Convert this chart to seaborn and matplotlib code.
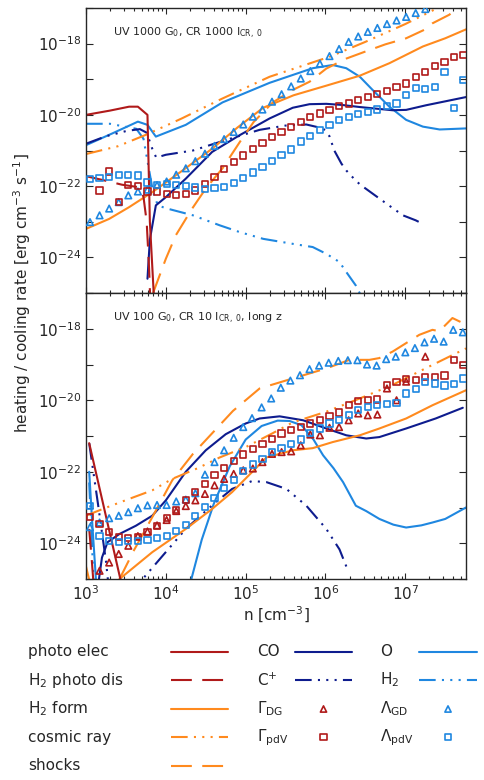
## heating / cooling rates vs density, two panels plus a hand-made key
import numpy as np
import matplotlib
matplotlib.use("Agg")
import matplotlib.pyplot as plt
import matplotlib.ticker as mticker
import seaborn as sns

## values are log10(n) and log10(rate)

# top panel: UV 1000 G0, CR 1000
top_photo_n = [3.0, 3.3, 3.54, 3.65, 3.77, 3.78, 3.80, 3.86]
top_photo_r = [-20.0, -19.88, -19.77, -19.77, -20.0, -21.0, -23.0, -25.5]
top_h2dis_n = [3.0, 3.25, 3.45, 3.66, 3.72, 3.76, 3.79, 3.81]
top_h2dis_r = [-21.72, -21.85, -21.96, -22.03, -22.3, -23.0, -24.3, -25.5]
top_h2form_n = [3.0, 3.29, 3.54, 3.83, 4.21, 4.58, 4.9, 5.22, 5.6, 6.01, 6.43, 6.8, 7.22, 7.5, 7.76]
top_h2form_r = [-23.2, -22.92, -22.59, -22.17, -21.56, -20.95, -20.35, -19.8, -19.45, -19.18, -18.9, -18.55, -18.08, -17.85, -17.6]
top_cr_n = [3.0, 3.4, 3.75, 4.2, 4.7, 5.3, 6.05, 6.5, 7.0, 7.45]
top_cr_r = [-21.1, -20.88, -20.56, -20.1, -19.55, -18.93, -18.37, -17.95, -17.45, -16.95]
top_shock_n = [3.84, 4.0, 4.125, 4.33, 4.5, 4.71, 4.93, 5.1, 5.34, 5.59, 5.8, 6.01, 6.26, 6.49, 6.75, 7.01, 7.24, 7.34, 7.55, 7.68]
top_shock_r = [-25.0, -24.04, -23.38, -22.63, -22.07, -21.5, -20.75, -20.2, -19.65, -19.3, -19.07, -18.7, -18.42, -18.23, -18.02, -17.85, -17.61, -17.43, -17.19, -16.95]
top_co_n = [3.77, 3.8, 3.875, 4.0, 4.25, 4.58, 4.925, 5.3, 5.59, 5.8, 6.01, 6.2, 6.43, 6.84, 7.01, 7.26, 7.5, 7.76]
top_co_r = [-24.6, -23.5, -22.54, -22.31, -21.79, -21.04, -20.57, -20.1, -19.8, -19.7, -19.69, -19.72, -19.78, -19.87, -19.86, -19.73, -19.62, -19.5]
top_cplus_n = [3.0, 3.25, 3.51, 3.675, 3.76, 3.83, 3.88, 4.0, 4.34, 4.76, 5.175, 5.5, 5.76, 5.97, 6.05, 6.11, 6.2, 6.26, 6.36, 6.43, 6.59, 6.8, 6.97, 7.13, 7.22]
top_cplus_r = [-20.81, -20.6, -20.45, -20.4, -20.5, -20.95, -21.2, -21.12, -21.0, -20.7, -20.42, -20.3, -20.27, -20.38, -20.6, -21.0, -21.37, -21.56, -21.8, -21.95, -22.21, -22.55, -22.82, -22.96, -23.06]
top_o_n = [3.0, 3.33, 3.65, 3.77, 3.875, 4.25, 4.71, 5.3, 5.84, 6.09, 6.26, 6.43, 6.59, 6.8, 7.01, 7.22, 7.43, 7.76]
top_o_r = [-20.85, -20.52, -20.19, -20.28, -20.61, -20.28, -19.65, -19.1, -18.69, -18.6, -18.69, -18.93, -19.3, -19.77, -20.14, -20.33, -20.41, -20.38]
top_h2_n = [3.0, 3.3, 3.51, 3.63, 3.72, 3.78, 3.84, 3.9, 4.0, 4.34, 4.675, 4.925, 5.22, 5.59, 5.84, 6.01, 6.175, 6.26, 6.38, 6.45]
top_h2_r = [-20.25, -20.25, -20.34, -20.39, -20.67, -21.42, -22.17, -22.54, -22.62, -22.82, -23.1, -23.29, -23.48, -23.62, -23.71, -23.9, -24.13, -24.41, -24.79, -25.1]

top_lgd_n = [3.05, 3.17, 3.29, 3.41, 3.53, 3.65, 3.77, 3.89, 4.01, 4.13, 4.25, 4.37, 4.49, 4.61, 4.73, 4.85, 4.97, 5.09,
             5.21, 5.33, 5.45, 5.57, 5.69, 5.81, 5.93, 6.05, 6.17, 6.29, 6.41, 6.53, 6.65, 6.77, 6.89, 7.01, 7.13, 7.25]
top_lgd_r = [-23.01, -22.82, -22.63, -22.45, -22.26, -22.15, -22.1, -21.97, -21.87, -21.68, -21.5, -21.3, -21.09, -20.87,
             -20.68, -20.48, -20.27, -20.05, -19.85, -19.63, -19.42, -19.2, -18.98, -18.77, -18.56, -18.35, -18.15, -17.95,
             -17.8, -17.67, -17.56, -17.45, -17.35, -17.25, -17.14, -17.03]
top_gpdv_n = [3.17, 3.29, 3.41, 3.53, 3.65, 3.77, 3.89, 4.01, 4.13, 4.25, 4.37, 4.49, 4.61, 4.73, 4.85, 4.97, 5.09, 5.21,
              5.33, 5.45, 5.57, 5.69, 5.81, 5.93, 6.05, 6.17, 6.29, 6.41, 6.53, 6.65, 6.77, 6.89, 7.01, 7.13, 7.25, 7.37,
              7.49, 7.61, 7.73]
top_gpdv_r = [-22.12, -21.59, -22.45, -21.96, -22.0, -22.15, -22.15, -22.23, -22.26, -22.23, -22.12, -21.95, -21.74,
              -21.53, -21.32, -21.14, -20.95, -20.8, -20.63, -20.48, -20.33, -20.2, -20.05, -19.96, -19.86, -19.75,
              -19.68, -19.58, -19.49, -19.42, -19.33, -19.21, -19.12, -18.93, -18.79, -18.63, -18.52, -18.37, -18.32]
top_lpdv_n = [3.05, 3.17, 3.29, 3.41, 3.53, 3.65, 3.77, 3.89, 4.01, 4.13, 4.25, 4.37, 4.49, 4.61, 4.73, 4.85, 4.97, 5.09,
              5.21, 5.33, 5.45, 5.57, 5.69, 5.81, 5.93, 6.05, 6.17, 6.29, 6.41, 6.53, 6.65, 6.77, 6.89, 7.01, 7.13, 7.25,
              7.37, 7.49, 7.61, 7.73]
top_lpdv_r = [-21.81, -21.77, -21.74, -21.68, -21.68, -21.7, -21.9, -21.96, -21.93, -21.96, -22.0, -22.04, -22.08, -22.06,
              -22.02, -21.92, -21.78, -21.62, -21.46, -21.3, -21.13, -20.97, -20.75, -20.59, -20.42, -20.28, -20.15,
              -20.06, -19.97, -19.91, -19.85, -19.75, -19.68, -19.44, -19.25, -19.28, -19.21, -18.79, -19.81, -19.02]

# bottom panel: UV 100 G0, CR 10, long z
bot_photo_n = [3.04, 3.42, 3.46]
bot_photo_r = [-21.2, -24.9, -25.3]
bot_h2dis_n = [3.04, 3.07, 3.1]
bot_h2dis_r = [-23.6, -24.4, -25.3]
bot_h2form_n = [3.0, 3.07, 3.2, 3.4, 3.42, 3.83, 4.25, 4.58, 4.83, 5.08, 5.26, 5.59, 5.84, 6.09, 6.43, 6.675, 7.01, 7.34, 7.76]
bot_h2form_r = [-24.65, -25.3, -27, -27, -25.0, -24.25, -23.6, -23.04, -22.57, -22.01, -21.6, -21.4, -21.34, -21.17,
                -20.98, -20.79, -20.51, -20.14, -19.72]
bot_cr_n = [3.0, 3.21, 3.54, 3.83, 4.08, 4.4, 4.675, 5.01, 5.34, 5.59, 6.01, 6.43, 6.84, 7.26, 7.76]
bot_cr_r = [-23.23, -23.04, -22.76, -22.52, -22.2, -21.9, -21.6, -21.3, -20.92, -20.62, -20.32, -19.95, -19.57, -19.1, -18.55]
bot_shock_n = [3.42, 3.6, 3.84, 4.08, 4.34, 4.59, 4.84, 5.175, 5.59, 6.01, 6.3, 6.55, 6.675, 6.84, 7.175, 7.34, 7.425, 7.59, 7.72]
bot_shock_r = [-25.0, -24.2, -23.23, -22.24, -21.5, -20.9, -20.3, -19.67, -19.39, -19.11, -18.87, -18.87, -18.82, -18.64,
               -18.17, -18.03, -18.07, -17.7, -17.84]
bot_co_n = [3.15, 3.2, 3.27, 3.42, 3.625, 3.83, 4.0, 4.25, 4.5, 4.75, 5.0, 5.175, 5.425, 5.72, 6.01, 6.26, 6.51, 6.675, 7.01, 7.38, 7.72]
bot_co_r = [-25.2, -24.4, -23.97, -23.74, -23.51, -23.23, -22.8, -22.0, -21.4, -20.95, -20.65, -20.51, -20.45, -20.56,
            -20.79, -20.98, -21.07, -21.03, -20.79, -20.51, -20.21]
bot_cplus_n = [3.04, 3.15, 3.25, 3.32, 3.71, 3.96, 4.25, 4.58, 4.83, 5.08, 5.26, 5.51, 5.76, 6.01, 6.175, 6.27]
bot_cplus_r = [-21.2, -22.9, -24.5, -26.0, -25.0, -24.35, -23.6, -22.94, -22.48, -22.26, -22.29, -22.48, -22.95, -23.6, -24.17, -24.7]
bot_o_n = [3.04, 3.08, 3.13, 3.2, 4.25, 4.32, 4.45, 4.6, 4.8, 5.0, 5.2, 5.4, 5.55, 5.7, 5.85, 5.97, 6.1, 6.22, 6.38,
           6.51, 6.675, 6.85, 7.01, 7.2, 7.34, 7.5, 7.76]
bot_o_r = [-22.0, -23.5, -25.2, -27, -27, -25.0, -23.9, -22.9, -21.85, -21.1, -20.72, -20.57, -20.58, -20.7, -21.1,
           -21.54, -21.9, -22.29, -22.95, -23.1, -23.32, -23.48, -23.56, -23.5, -23.42, -23.32, -23.0]
bot_h2_n = [3.04, 3.07, 3.1]
bot_h2_r = [-22.3, -23.8, -25.3]

bot_lgd_n = [3.05, 3.17, 3.29, 3.41, 3.53, 3.65, 3.77, 3.89, 4.01, 4.13, 4.25, 4.37, 4.49, 4.61, 4.73, 4.85, 4.97, 5.08,
             5.2, 5.32, 5.44, 5.56, 5.68, 5.8, 5.92, 6.04, 6.16, 6.28, 6.4, 6.52, 6.64, 6.76, 6.88, 7.0, 7.12, 7.24,
             7.36, 7.48, 7.6, 7.72]
bot_lgd_r = [-23.55, -23.42, -23.3, -23.23, -23.13, -23.02, -22.94, -22.93, -22.93, -22.83, -22.78, -22.6, -22.08,
             -21.73, -21.4, -21.05, -20.75, -20.5, -20.2, -19.95, -19.65, -19.45, -19.3, -19.13, -19.03, -18.95, -18.9,
             -18.88, -18.88, -19.0, -19.03, -18.85, -18.78, -18.66, -18.54, -18.38, -18.28, -18.36, -18.03, -18.1]
bot_gdg_n = [3.17, 3.29, 3.41, 3.53, 3.65, 3.77, 3.89, 4.01, 4.13, 4.25, 4.37, 4.49, 4.61, 4.73, 4.85, 4.97, 5.09, 5.21,
             5.33, 5.45, 5.57, 5.69, 5.81, 5.93, 6.05, 6.17, 6.29, 6.41, 6.53, 6.65, 6.77, 6.89, 7.01, 7.25]
bot_gdg_r = [-24.77, -24.54, -24.3, -24.07, -23.8, -23.67, -23.5, -23.35, -23.1, -22.96, -22.8, -22.62, -22.38, -22.2,
             -22.06, -21.96, -21.91, -21.73, -21.5, -21.45, -21.43, -21.26, -20.96, -20.98, -20.77, -20.75, -20.56,
             -20.37, -20.42, -20.4, -19.67, -20.0, -19.48, -18.78]
bot_gpdv_n = [3.05, 3.17, 3.29, 3.41, 3.53, 3.65, 3.77, 3.89, 4.01, 4.13, 4.25, 4.37, 4.49, 4.61, 4.73, 4.85, 4.97, 5.09,
              5.21, 5.33, 5.45, 5.57, 5.69, 5.81, 5.93, 6.05, 6.17, 6.29, 6.41, 6.53, 6.65, 6.77, 6.89, 7.01, 7.13, 7.25,
              7.37, 7.49, 7.61, 7.73]
bot_gpdv_r = [-23.27, -23.46, -23.69, -23.83, -23.85, -23.83, -23.69, -23.52, -23.29, -23.06, -22.8, -22.57, -22.34,
              -22.1, -21.9, -21.7, -21.52, -21.36, -21.22, -21.08, -20.93, -20.84, -20.75, -20.65, -20.56, -20.44,
              -20.34, -20.14, -20.02, -20.0, -19.98, -19.57, -19.48, -19.41, -19.43, -19.34, -19.34, -19.31, -18.87, -19.01]
bot_lpdv_n = [3.05, 3.17, 3.29, 3.41, 3.53, 3.65, 3.77, 3.89, 4.01, 4.13, 4.25, 4.37, 4.49, 4.61, 4.73, 4.85, 4.97, 5.09,
              5.21, 5.33, 5.45, 5.57, 5.69, 5.81, 5.93, 6.05, 6.17, 6.29, 6.41, 6.53, 6.65, 6.77, 6.89, 7.01, 7.13, 7.25,
              7.37, 7.49, 7.61, 7.73]
bot_lpdv_r = [-22.96, -23.79, -23.93, -23.96, -23.93, -23.93, -23.9, -23.86, -23.79, -23.65, -23.49, -23.24, -22.99,
              -22.73, -22.46, -22.24, -21.99, -21.8, -21.64, -21.45, -21.34, -21.22, -21.1, -20.91, -20.79, -20.65,
              -20.56, -20.42, -20.28, -20.19, -20.14, -20.1, -20.07, -19.81, -19.69, -19.48, -19.53, -19.59, -19.55, -19.39]

## colours and line styles
RED = '#b01a1a'
ORANGE = '#ff8a1e'
NAVY = '#0e1c8e'
BLUE = '#1f87e0'
SOLID = '-'
LDASH = (0, (10, 5))
DDD = (0, (8, 3, 1, 3, 1, 3, 1, 3))
LW = 1.5


def draw_line(ax, logn, logr, color, ls):
    sns.lineplot(x=10 ** np.array(logn), y=10 ** np.array(logr), ax=ax, color=color,
                 linestyle=ls, linewidth=LW, sort=False, estimator=None)


def draw_marks(ax, logn, logr, color, marker, size):
    sns.scatterplot(x=10 ** np.array(logn), y=10 ** np.array(logr), ax=ax, marker=marker, s=size,
                    facecolor='none', edgecolor=color, linewidth=1.2, zorder=5)


def style_axes(ax, note, bottom):
    ax.set_xscale('log')
    ax.set_yscale('log')
    ax.set_xlim(1e3, 10 ** 7.76)
    ax.set_ylim(1e-25, 1e-17)
    ax.yaxis.set_major_locator(mticker.FixedLocator([1e-24, 1e-22, 1e-20, 1e-18]))
    ax.yaxis.set_minor_locator(mticker.FixedLocator([1e-25, 1e-23, 1e-21, 1e-19, 1e-17]))
    ax.yaxis.set_major_formatter(mticker.LogFormatterSciNotation())
    ax.yaxis.set_minor_formatter(mticker.NullFormatter())
    ax.xaxis.set_major_locator(mticker.LogLocator(base=10, numticks=10))
    ax.xaxis.set_minor_locator(mticker.LogLocator(base=10, subs=np.arange(2, 10), numticks=20))
    ax.xaxis.set_minor_formatter(mticker.NullFormatter())
    ax.tick_params(which='both', direction='in', top=True, right=True, labelsize=11, width=0.8)
    ax.tick_params(axis='y', which='both', length=5)
    ax.tick_params(axis='x', which='major', length=4.5)
    ax.tick_params(axis='x', which='minor', length=2.5)
    if bottom:
        ax.set_xlabel(r'n [cm$^{-3}$]', fontsize=11, labelpad=2)
    else:
        ax.tick_params(axis='x', labelbottom=False)
        ax.set_xlabel('')
    ax.set_ylabel('')
    for sp in ax.spines.values():
        sp.set_linewidth(1.0)
    ax.text(0.071, 0.91, note, transform=ax.transAxes, fontsize=8, va='center', ha='left')


def main():
    sns.set_style("ticks")
    plt.rcParams['font.family'] = ['DejaVu Sans']

    fig = plt.figure(figsize=(4.85, 7.8), dpi=100)
    ax_top = fig.add_axes([86 / 485, 1 - 293 / 780, 380 / 485, 285 / 780])
    ax_bot = fig.add_axes([86 / 485, 1 - 579 / 780, 380 / 485, 286 / 780])

    # top panel
    draw_line(ax_top, top_h2_n, top_h2_r, BLUE, DDD)
    draw_line(ax_top, top_o_n, top_o_r, BLUE, SOLID)
    draw_line(ax_top, top_cplus_n, top_cplus_r, NAVY, DDD)
    draw_line(ax_top, top_co_n, top_co_r, NAVY, SOLID)
    draw_line(ax_top, top_shock_n, top_shock_r, ORANGE, LDASH)
    draw_line(ax_top, top_cr_n, top_cr_r, ORANGE, DDD)
    draw_line(ax_top, top_h2form_n, top_h2form_r, ORANGE, SOLID)
    draw_line(ax_top, top_h2dis_n, top_h2dis_r, RED, LDASH)
    draw_line(ax_top, top_photo_n, top_photo_r, RED, SOLID)
    draw_marks(ax_top, top_lgd_n, top_lgd_r, BLUE, '^', 22)
    draw_marks(ax_top, top_gpdv_n, top_gpdv_r, RED, 's', 20)
    draw_marks(ax_top, top_lpdv_n, top_lpdv_r, BLUE, 's', 20)
    style_axes(ax_top, r'UV 1000 G$_0$, CR 1000 I$_{\rm CR,\ 0}$', False)

    # bottom panel
    draw_line(ax_bot, bot_h2_n, bot_h2_r, BLUE, DDD)
    draw_line(ax_bot, bot_o_n, bot_o_r, BLUE, SOLID)
    draw_line(ax_bot, bot_cplus_n, bot_cplus_r, NAVY, DDD)
    draw_line(ax_bot, bot_co_n, bot_co_r, NAVY, SOLID)
    draw_line(ax_bot, bot_shock_n, bot_shock_r, ORANGE, LDASH)
    draw_line(ax_bot, bot_cr_n, bot_cr_r, ORANGE, DDD)
    draw_line(ax_bot, bot_h2form_n, bot_h2form_r, ORANGE, SOLID)
    draw_line(ax_bot, bot_h2dis_n, bot_h2dis_r, RED, LDASH)
    draw_line(ax_bot, bot_photo_n, bot_photo_r, RED, SOLID)
    draw_marks(ax_bot, bot_lgd_n, bot_lgd_r, BLUE, '^', 22)
    draw_marks(ax_bot, bot_gdg_n, bot_gdg_r, RED, '^', 22)
    draw_marks(ax_bot, bot_gpdv_n, bot_gpdv_r, RED, 's', 20)
    draw_marks(ax_bot, bot_lpdv_n, bot_lpdv_r, BLUE, 's', 20)
    style_axes(ax_bot, r'UV 100 G$_0$, CR 10 I$_{\rm CR,\ 0}$, long z', True)

    fig.text(22 / 485, 1 - 293 / 780, r'heating / cooling rate [erg cm$^{-3}$ s$^{-1}$]',
             rotation=90, ha='center', va='center', fontsize=11)

    # key below the panels, in pixel coordinates
    key = fig.add_axes([0, 0, 1, 1])
    key.set_xlim(0, 485)
    key.set_ylim(780, 0)
    key.axis('off')
    rows = [651.7, 680, 709, 737.3, 766]
    col1 = [('photo elec', RED, SOLID), (r'H$_2$ photo dis', RED, LDASH), (r'H$_2$ form', ORANGE, SOLID),
            ('cosmic ray', ORANGE, DDD), ('shocks', ORANGE, LDASH)]
    for y, (txt, c, ls) in zip(rows, col1):
        key.text(28, y, txt, fontsize=11, va='center', ha='left')
        key.plot([171, 228], [y, y], color=c, linestyle=ls, linewidth=LW)
    col2 = [('CO', NAVY, SOLID, None), (r'C$^{+}$', NAVY, DDD, None),
            (r'$\Gamma_{\rm DG}$', RED, None, '^'), (r'$\Gamma_{\rm pdV}$', RED, None, 's')]
    col3 = [('O', BLUE, SOLID, None), (r'H$_2$', BLUE, DDD, None),
            (r'$\Lambda_{\rm GD}$', BLUE, None, '^'), (r'$\Lambda_{\rm pdV}$', BLUE, None, 's')]
    for x_txt, x0, x1, col in [(257, 295, 352, col2), (380, 419, 477, col3)]:
        for y, (txt, c, ls, mk) in zip(rows, col):
            key.text(x_txt, y, txt, fontsize=11, va='center', ha='left')
            if mk is None:
                key.plot([x0, x1], [y, y], color=c, linestyle=ls, linewidth=LW)
            else:
                key.scatter([(x0 + x1) / 2], [y], marker=mk, s=20, facecolor='none', edgecolor=c, linewidth=1.2)

    fig.savefig('out.png', dpi=100)


if __name__ == '__main__':
    main()
